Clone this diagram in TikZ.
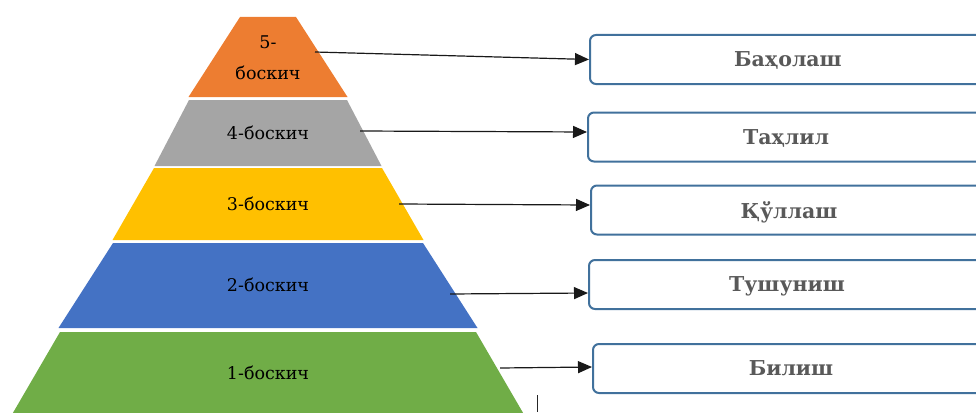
\documentclass[tikz,border=0pt]{standalone}
\usepackage{fontspec}
\setmainfont{DejaVu Serif}
\usetikzlibrary{arrows.meta}
\definecolor{lvfive}{HTML}{ED7D31}
\definecolor{lvfour}{HTML}{A5A5A5}
\definecolor{lvthree}{HTML}{FFC000}
\definecolor{lvtwo}{HTML}{4472C4}
\definecolor{lvone}{HTML}{70AD47}
\definecolor{boxblue}{HTML}{41719C}
\definecolor{labelgray}{HTML}{595959}
\begin{document}
\begin{tikzpicture}[x=1pt,y=-1pt,
  lvl/.style={font=\fontsize{17.5}{31}\selectfont, text=black, align=center, inner sep=0pt},
  goal/.style={draw=boxblue, line width=2pt, rounded corners=6pt, fill=white,
    minimum width=396pt, minimum height=49pt, text depth=0pt,
    font=\fontsize{20.5}{24}\selectfont\bfseries, text=labelgray, inner sep=0pt},
  conn/.style={-{Triangle[length=14pt,width=12pt]}, line width=1.2pt, black!90}]
\useasboundingbox (0,0) rectangle (976,412);
\clip (0,0) rectangle (976,412);
% pyramid levels
\fill[lvfive]  (240,17)    -- (296,17)    -- (347.5,97)  -- (188.5,97)  -- cycle;
\fill[lvfour]  (189,100)   -- (347,100)   -- (381.5,166) -- (154.5,166) -- cycle;
\fill[lvthree] (154,168)   -- (382,168)   -- (423.5,240) -- (112.5,240) -- cycle;
\fill[lvtwo]   (113,243)   -- (423,243)   -- (477.5,328) -- (58.5,328)  -- cycle;
\fill[lvone]   (60,332)    -- (476,332)   -- (527.2,420) -- (8.8,420)   -- cycle;
% level labels
\node[lvl] (t5) at (268,57.5) {5-\\боскич};
\node[lvl] (t4) at (268,133) {4-боскич};
\node[lvl] (t3) at (268,204) {3-боскич};
\node[lvl] (t2) at (268,285) {2-боскич};
\node[lvl] (t1) at (268,373) {1-боскич};
% goal boxes
\node[goal] (b1) at (788,59.5)  {Баҳолаш};
\node[goal] (b2) at (786,137)   {Таҳлил};
\node[goal] (b3) at (789,210)   {Қўллаш};
\node[goal] (b4) at (787,284.5) {Тушуниш};
\node[goal] (b5) at (791,368.5) {Билиш};
% connector starts
\coordinate (s1) at (315,52);
\coordinate (s2) at (360,131);
\coordinate (s3) at (399,204);
\coordinate (s4) at (450,294);
\coordinate (s5) at (500,368);
\draw[conn] (s1) -- (b1.west);
\draw[conn] (s2) -- ([yshift=5pt]b2.west);
\draw[conn] (s3) -- ([yshift=5pt]b3.west);
\draw[conn] (s4) -- ([yshift=-8.5pt]b4.west);
\draw[conn] (s5) -- ([yshift=1.5pt]b5.west);
% stray mark
\coordinate (m1) at (537,395);
\coordinate (m2) at (537,412);
\draw[line width=1pt, black!85] (m1) -- (m2);
\end{tikzpicture}
\end{document}
